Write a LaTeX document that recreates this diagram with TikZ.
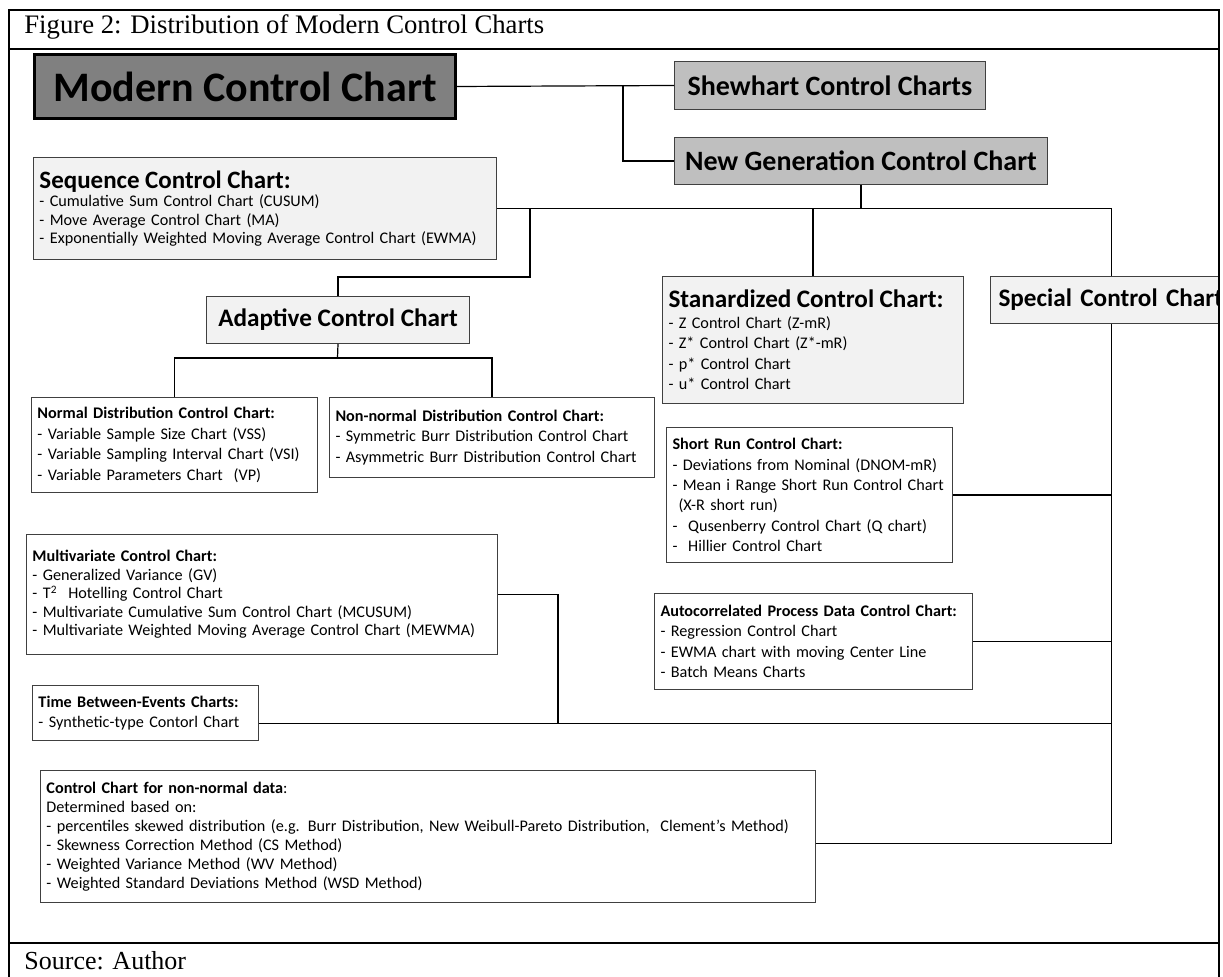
\documentclass[tikz,border=0pt]{standalone}
\usepackage{fontspec}
\setmainfont{Liberation Serif}
\newfontfamily\calibri{Carlito}
\usetikzlibrary{positioning,calc}

\begin{document}
\begin{tikzpicture}[
x=0.5pt, y=-0.5pt,
frame/.style={line width=1.25pt},
link/.style={line width=0.6pt},
box/.style={draw=black!75, line width=0.5pt, anchor=north west, align=left, inner xsep=3pt, inner ysep=2pt, font=\calibri\fontsize{8.1}{10.2}\selectfont},
headbox/.style={box, align=center, font=\calibri\bfseries\fontsize{14}{16}\selectfont},
bigtitle/.style={font=\calibri\bfseries\fontsize{12.6}{15}\selectfont}
]
\useasboundingbox (0,0) rectangle (1223,977);

% top of the tree
\node[box, align=center, fill=black!50, draw=black, line width=1.5pt, minimum width=210.5pt, minimum height=32pt, font=\calibri\bfseries\fontsize{21}{24}\selectfont] (modern) at (33,53) {Modern Control Chart};
\node[headbox, fill=black!25, minimum width=155.5pt, minimum height=24pt] (shewhart) at (674,61) {Shewhart Control Charts};
\node[headbox, fill=black!25, minimum width=186.5pt, minimum height=23.5pt] (newgen) at (674,137) {New Generation Control Chart};

% grey groups
\node[box, fill=black!5, text width=225.5pt, minimum height=51pt, font=\calibri\fontsize{8.1}{9.2}\selectfont] (sequence) at (33,157)
{{\fontsize{12.5}{15}\selectfont\bfseries Sequence Control Chart:}\\
- Cumulative Sum Control Chart (CUSUM)\\
- Move Average Control Chart (MA)\\
- Exponentially Weighted Moving Average Control Chart (EWMA)};
\node[box, bigtitle, align=center, fill=black!5, minimum width=131.5pt, minimum height=23.5pt] (adaptive) at (206,296) {Adaptive Control Chart};
\node[box, fill=black!5, text width=144.5pt, minimum height=63.5pt, font=\calibri\fontsize{8.1}{10.3}\selectfont] (standard) at (662,276)
{{\fontsize{12.6}{15}\selectfont\bfseries Stanardized Control Chart:}\\
- Z Control Chart (Z-mR)\\
- Z* Control Chart (Z*-mR)\\
- p* Control Chart\\
- u* Control Chart};
\begin{scope}
\clip (0,0) rectangle (1218,977);
\node[box, bigtitle, fill=black!5, text width=113pt, minimum height=23.5pt, inner xsep=4pt] (special) at (990,276) {Special Control Chart};
\end{scope}

% white groups
\node[box, text width=137pt, minimum height=47.5pt] (normal) at (31,397)
{\textbf{Normal Distribution Control Chart:}\\
- Variable Sample Size Chart (VSS)\\
- Variable Sampling Interval Chart (VSI)\\
- Variable Parameters Chart\ \ (VP)};
\node[box, text width=156.5pt, minimum height=40pt] (nonnormal) at (329,397)
{\textbf{Non-normal Distribution Control Chart:}\\
- Symmetric Burr Distribution Control Chart\\
- Asymmetric Burr Distribution Control Chart};
\node[box, text width=137pt, minimum height=67.5pt] (shortrun) at (666,427)
{\textbf{Short Run Control Chart:}\\
- Deviations from Nominal (DNOM-mR)\\
- Mean i Range Short Run Control Chart\\
\hspace*{3pt}(X-R short run)\\
-\ \ Qusenberry Control Chart (Q chart)\\
-\ \ Hillier Control Chart};
\node[box, text width=229.5pt, minimum height=60pt, font=\calibri\fontsize{8.1}{9.3}\selectfont] (multivar) at (26,534)
{\textbf{Multivariate Control Chart:}\\
- Generalized Variance (GV)\\
- T\textsuperscript{2}\ \ Hotelling Control Chart\\
- Multivariate Cumulative Sum Control Chart (MCUSUM)\\
- Multivariate Weighted Moving Average Control Chart (MEWMA)};
\node[box, text width=153pt, minimum height=48pt] (autocorr) at (654,593)
{\textbf{Autocorrelated Process Data Control Chart:}\\
- Regression Control Chart\\
- EWMA chart with moving Center Line\\
- Batch Means Charts};
\node[box, text width=107pt, minimum height=27.5pt] (timebetween) at (32,685)
{\textbf{Time Between-Events Charts:}\\
- Synthetic-type Contorl Chart};
\node[box, text width=381.5pt, minimum height=66pt, font=\calibri\fontsize{8.1}{9.5}\selectfont] (nonnormdata) at (40,770)
{\textbf{Control Chart for non-normal data}:\\
Determined based on:\\
- percentiles skewed distribution (e.g. Burr Distribution, New Weibull-Pareto Distribution,\ \ Clement’s Method)\\
- Skewness Correction Method (CS Method)\\
- Weighted Variance Method (WV Method)\\
- Weighted Standard Deviations Method (WSD Method)};

% connectors
\coordinate (fork) at (623,85);
\coordinate (seqdrop) at (530,277);
\coordinate (adbus) at (337.5,358);
\coordinate (mvjoin) at (558,0);
\coordinate (mainbus) at (newgen.south |- sequence.east);
\coordinate (tbout) at ($(timebetween.north east)!0.69!(timebetween.south east)$);
\coordinate (ccout) at ($(nonnormdata.north east)!0.55!(nonnormdata.south east)$);
\coordinate (trunkend) at (special.south |- ccout);

\draw[link] (modern.east) -- (shewhart.west);
\draw[link] (fork) |- (newgen.west);
\draw[link] (newgen.south) -- (mainbus);
\draw[link] (sequence.east) -- (sequence.east -| special.north);
\draw[link] (standard.north) -- (standard.north |- sequence.east);
\draw[link] (special.north) -- (special.north |- sequence.east);
\draw[link] (seqdrop |- sequence.east) -- (seqdrop) -| (adaptive.north);
\draw[link] (adaptive.south) -- (adbus);
\draw[link] (normal.north) |- (adbus) -| (nonnormal.north);
\draw[link] (special.south) -- (trunkend);
\draw[link] (shortrun.east) -- (shortrun.east -| special.south);
\draw[link] (autocorr.east) -- (autocorr.east -| special.south);
\draw[link] (tbout) -- (tbout -| special.south);
\draw[link] (multivar.east) -| (mvjoin |- tbout);
\draw[link] (ccout) -- (trunkend);

% figure frame
\node[anchor=base west, inner sep=0pt, font=\fontsize{13.35}{16}\selectfont] (figtitle) at (24,34) {Figure 2: Distribution of Modern Control Charts};
\node[anchor=base west, inner sep=0pt, font=\fontsize{13}{16}\selectfont] (source) at (24,970) {Source: Author};
\draw[frame] (9,980) -- (9,10) -- (1219,10) -- (1219,980);
\draw[frame] (9,49) -- (1219,49);
\draw[frame] (9,943) -- (1219,943);
\end{tikzpicture}
\end{document}
